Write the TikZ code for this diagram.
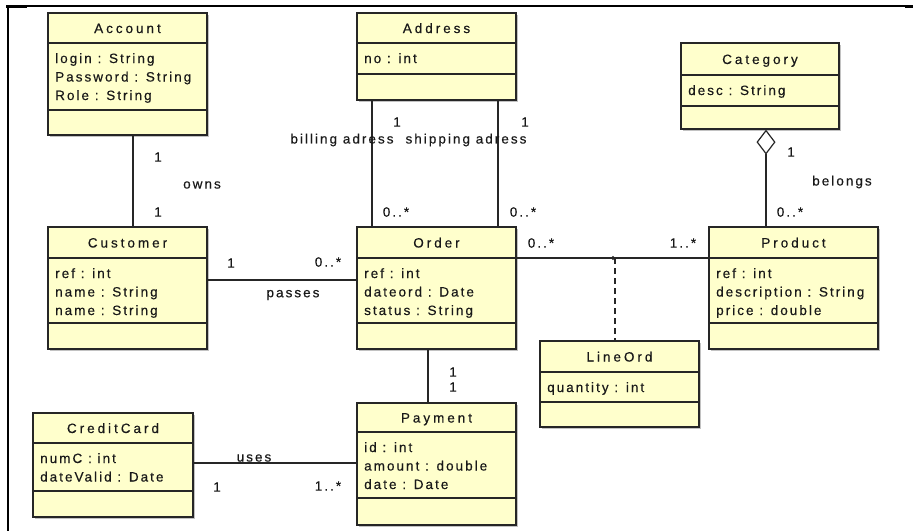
\documentclass[tikz,border=0pt]{standalone}
\usepackage{fontspec}
\setmainfont{Liberation Sans}[LetterSpace=15,FakeBold=0.4]
\usetikzlibrary{shadows,arrows.meta,calc}
\definecolor{classfill}{HTML}{FFFFCC}
\definecolor{linecol}{HTML}{262626}
\tikzset{
  umltext/.style={font=\fontsize{13.5}{16}\selectfont, inner sep=0pt, text=black!90},
  titletext/.style={umltext, font=\fontsize{13.5}{16}\selectfont\addfontfeature{LetterSpace=22}},
  classbox/.style={draw=linecol, fill=classfill, line width=1.2pt, inner sep=0pt,
    drop shadow={shadow xshift=2pt, shadow yshift=-2pt, fill=black!40, opacity=0.6}},
  sep/.style={draw=linecol, line width=1.2pt},
  assoc/.style={draw=linecol, line width=1.2pt},
  lbl/.style={umltext},
}
\newcommand\umlclass[9]{%
  \pgfmathsetmacro\cw{#4-#2}\pgfmathsetmacro\ch{#5-#3}%
  \node[classbox, minimum width=\cw pt, minimum height=\ch pt] (#1) at ({(#2+#4)/2},{(#3+#5)/2}) {};
  \draw[sep] (#2,#6) -- (#4,#6);
  \draw[sep] (#2,#7) -- (#4,#7);
  \node[titletext, anchor=base] (#1-t) at ({(#2+#4)/2},{(#3+#6)/2+5}) {#8};
  \foreach \t [count=\i] in {#9} {
    \node[umltext, anchor=base west] (#1-a\i) at (#2+7,{#6+20+18.5*(\i-1)}) {\t};
  }
}
\begin{document}
\begin{tikzpicture}[x=1pt,y=-1pt]
\useasboundingbox (0,0) rectangle (913,531);
% frame
\draw[line width=1.5pt] (6,6) -- (913,6);
\draw[line width=1.5pt] (8,6) -- (8,531);
\draw[line width=3pt] (6,6.5) -- (27,6.5);
\draw[line width=3pt] (905,6.5) -- (913,6.5);

% classes
\umlclass{account}{48}{13}{207}{135}{43}{110}{Account}{login : String,Password : String,Role : String}
\umlclass{address}{357}{13}{516}{100}{43}{74}{Address}{no : int}
\umlclass{category}{681}{43}{839}{129}{75}{106}{Category}{desc : String}
\umlclass{customer}{48}{227}{207}{349}{258}{323}{Customer}{ref : int,name : String,name : String}
\umlclass{order}{357}{227}{516}{349}{258}{323}{Order}{ref : int,dateord : Date,status : String}
\umlclass{product}{709}{227}{878}{349}{258}{323}{Product}{ref : int,description : String,price : double}
\umlclass{lineord}{540}{341}{699}{427}{372}{402}{LineOrd}{quantity : int}
\umlclass{creditcard}{33}{413}{193}{517}{443}{491}{CreditCard}{numC : int,dateValid : Date}
\umlclass{payment}{357}{403}{516}{525}{432}{498}{Payment}{id : int,amount : double,date : Date}

% Account - Customer
\draw[assoc] ([xshift=5.5pt]account.south) -- ([xshift=5.5pt]customer.north);
\node[lbl] (l1) at (158,157) {1};
\node[lbl] (l2) at (202,185) {owns};
\node[lbl] (l3) at (158,212) {1};

% Address - Order
\draw[assoc] ([xshift=-64.5pt]address.south) -- ([xshift=-64.5pt]order.north);
\draw[assoc] ([xshift=61.5pt]address.south) -- ([xshift=61.5pt]order.north);
\node[lbl] (l4) at (397,122) {1};
\node[lbl] (l5) at (525,122) {1};
\node[lbl] (l6) at (342,140) {billing adress};
\node[lbl] (l7) at (466,140) {shipping adress};
\node[lbl] (l8) at (396,212) {0..*};
\node[lbl] (l9) at (523,212) {0..*};

% Customer - Order
\draw[assoc] ([yshift=8pt]customer.east) -- ([yshift=8pt]order.west);
\node[lbl] (l10) at (231,263) {1};
\node[lbl] (l11) at (328,262) {0..*};
\node[lbl] (l12) at (293,295) {passes};

% Order - Product with association class
\draw[assoc] ([yshift=30pt]order.east) -- ([yshift=30pt]product.west);
\coordinate (j) at (615,258);
\draw[linecol, line width=0.8pt] (613,258) circle (1.5pt);
\draw[assoc, dash pattern=on 6pt off 4pt] (j) -- (j |- lineord.north);
\node[lbl] (l13) at (541,243) {0..*};
\node[lbl] (l14) at (683,243) {1..*};

% Order - Payment
\draw[assoc] ([xshift=-8.5pt]order.south) -- ([xshift=-8.5pt]order.south |- payment.north);
\node[lbl] (l15) at (453,372) {1};
\node[lbl] (l16) at (453,387) {1};

% CreditCard - Payment
\draw[assoc] ([yshift=2pt]creditcard.east) -- ([yshift=2pt]creditcard.east -| payment.west);
\node[lbl] (l17) at (254,458) {uses};
\node[lbl] (l18) at (217,487) {1};
\node[lbl] (l19) at (328,486) {1..*};

% Category - Product (aggregation)
\coordinate (dt) at ([xshift=6pt]category.south);
\draw[assoc, {Diamond[open,length=25pt,width=19pt,line width=1.2pt]}-] (dt) -- (dt |- product.north);
\node[lbl] (l20) at (791,152) {1};
\node[lbl] (l21) at (842,182) {belongs};
\node[lbl] (l22) at (790,212) {0..*};
\end{tikzpicture}
\end{document}
